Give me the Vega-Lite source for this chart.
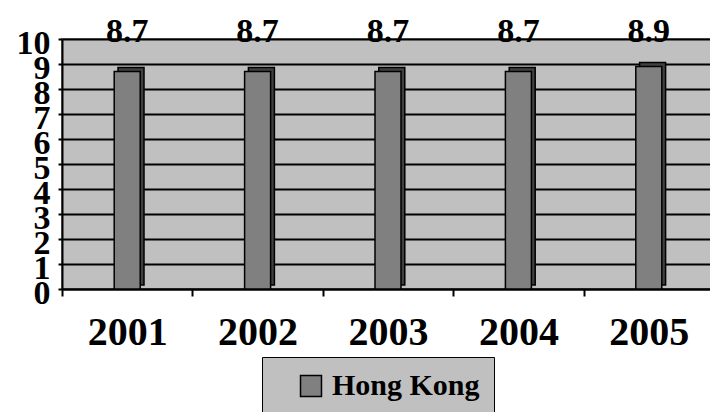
{
  "$schema": "https://vega.github.io/schema/vega-lite/v6.json",
  "autosize": {"type": "none"},
  "padding": {"left": 62, "top": 39, "right": 0, "bottom": 123},
  "width": 652,
  "height": 250,
  "background": "white",
  "config": {
    "view": {"fill": "#c0c0c0", "stroke": "#808080", "strokeWidth": 2},
    "font": "Liberation Serif",
    "text": {"font": "Liberation Serif"}
  },
  "data": {
    "values": [
      {"year": "2001", "region": "Hong Kong", "value": 8.7},
      {"year": "2002", "region": "Hong Kong", "value": 8.7},
      {"year": "2003", "region": "Hong Kong", "value": 8.7},
      {"year": "2004", "region": "Hong Kong", "value": 8.7},
      {"year": "2005", "region": "Hong Kong", "value": 8.9}
    ]
  },
  "encoding": {
    "x": {
      "field": "year",
      "type": "nominal",
      "scale": {"paddingInner": 0, "paddingOuter": 0},
      "axis": {
        "title": null,
        "labelAngle": 0,
        "labelFont": "Liberation Serif",
        "labelFontWeight": "bold",
        "labelFontSize": 40,
        "labelColor": "black",
        "labelPadding": 16,
        "domainColor": "black",
        "domainWidth": 2,
        "tickColor": "black",
        "tickWidth": 2,
        "tickSize": 7,
        "tickBand": "extent",
        "grid": false
      }
    }
  },
  "resolve": {"axis": {"y": "independent"}},
  "layer": [
    {
      "mark": {"type": "bar", "width": 26, "fill": "#404040", "stroke": "black", "strokeWidth": 1.5},
      "encoding": {
        "y": {"field": "value", "type": "quantitative", "scale": {"domain": [0, 10], "nice": false}, "axis": null},
        "xOffset": {"value": 69},
        "yOffset": {"value": -4}
      }
    },
    {
      "mark": {"type": "bar", "width": 26, "fill": "#808080", "stroke": "black", "strokeWidth": 1.5},
      "encoding": {
        "y": {
          "field": "value",
          "type": "quantitative",
          "scale": {"domain": [0, 10], "nice": false},
          "axis": {
            "title": null,
            "values": [0, 1, 2, 3, 4, 5, 6, 7, 8, 9, 10],
            "labelFont": "Liberation Serif",
            "labelFontWeight": "bold",
            "labelFontSize": 34,
            "labelColor": "black",
            "labelOverlap": false,
            "labelPadding": 8,
            "labelOffset": 4,
            "labelFlush": false,
            "domainColor": "black",
            "domainWidth": 2,
            "tickColor": "black",
            "tickWidth": 2,
            "tickSize": 4,
            "grid": true,
            "gridColor": "black",
            "gridWidth": 2,
            "gridOpacity": 1
          }
        },
        "fill": {
          "field": "region",
          "type": "nominal",
          "scale": {"range": ["#808080"]},
          "legend": {
            "title": null,
            "orient": "none",
            "legendX": 200,
            "legendY": 318,
            "fillColor": "#c0c0c0",
            "strokeColor": "black",
            "padding": 14,
            "symbolOffset": 20,
            "symbolType": "square",
            "symbolSize": 440,
            "symbolStrokeColor": "black",
            "symbolStrokeWidth": 1.5,
            "symbolFillColor": "#808080",
            "labelFont": "Liberation Serif",
            "labelFontWeight": "bold",
            "labelFontSize": 30,
            "labelColor": "black",
            "labelOffset": 6,
            "labelLimit": 300
          }
        }
      }
    },
    {
      "mark": {"type": "text", "font": "Liberation Serif", "fontWeight": "bold", "fontSize": 34, "color": "black", "baseline": "alphabetic", "dy": 3},
      "encoding": {
        "y": {"datum": 10, "type": "quantitative", "axis": null},
        "text": {"field": "value", "type": "quantitative", "format": ".1f"}
      }
    }
  ]
}
